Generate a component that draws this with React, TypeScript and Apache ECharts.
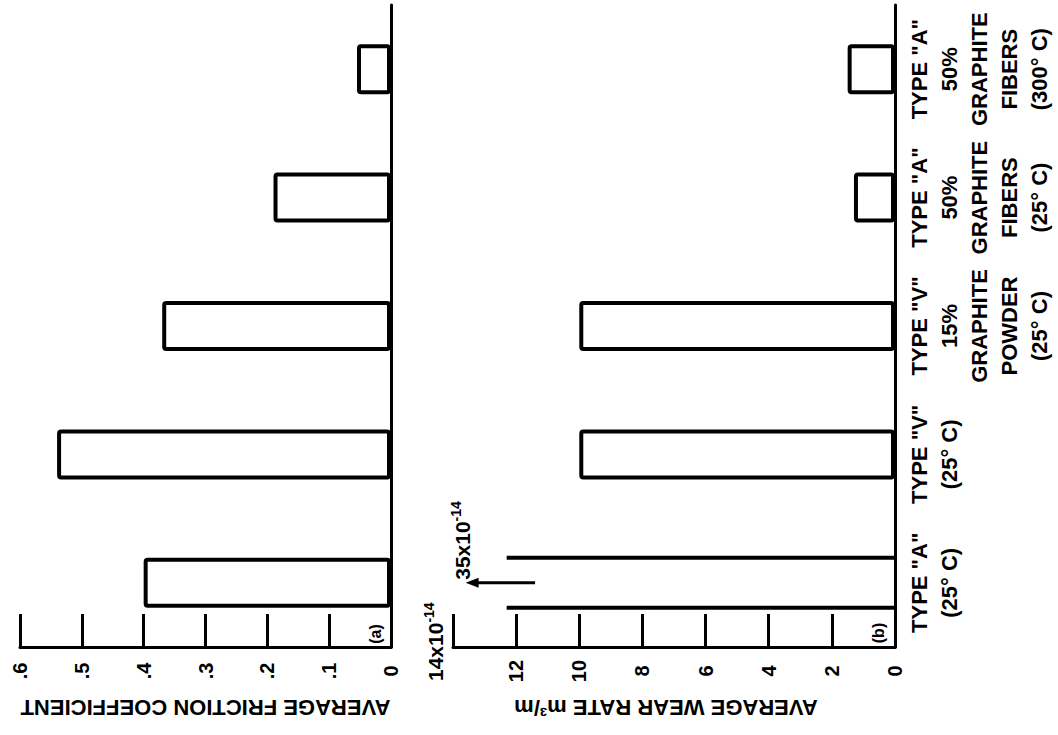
import React, { useEffect, useRef } from 'react';
import * as echarts from 'echarts';

// ---------- data ----------
const categories = [
  'TYPE "A"\n(25° C)',
  'TYPE "V"\n(25° C)',
  'TYPE "V"\n15%\nGRAPHITE\nPOWDER\n(25° C)',
  'TYPE "A"\n50%\nGRAPHITE\nFIBERS\n(25° C)',
  'TYPE "A"\n50%\nGRAPHITE\nFIBERS\n(300° C)',
];
const frictionCoefficients = [0.4, 0.54, 0.37, 0.19, 0.055];
const wearRates = [35, 10, 10, 1.3, 1.5]; // x10^-14 m3/m
const frictionTickLabels = ['0', '.1', '.2', '.3', '.4', '.5', '.6'];
const wearTickLabels = ['0', '2', '4', '6', '8', '10', '12', ''];
const frictionAxisRange = [0, 0.6, 0.1];
const wearAxisRange = [0, 14, 2];
const wearTopTickLabel = ['14x10', '-14'];
const offScaleLabel = ['35x10', '-14'];
const offScaleDrawnTo = 12.3; // value where the off-scale bar is cut
const offScaleArrow = [11.4, 13.6]; // arrow start, arrow tip (value units)

// ---------- style ----------
const FONT = '"Liberation Sans", Arial, sans-serif';
const BLACK = '#000';
const BAR_W = 50;

const supRich = {
  m: { fontSize: 21, fontWeight: 'bold', fontFamily: FONT, color: BLACK, verticalAlign: 'bottom' },
  s: { fontSize: 14, fontWeight: 'bold', fontFamily: FONT, color: BLACK, verticalAlign: 'top', padding: [0, 0, 10, 0] },
};

function valueAxis(grid: number, range: number[], labels: string[], name: string, namePad: number[]) {
  return {
    gridIndex: grid,
    type: 'value',
    inverse: true,
    position: 'bottom',
    min: range[0],
    max: range[1],
    interval: range[2],
    splitLine: { show: false },
    axisLine: { show: true, lineStyle: { color: BLACK, width: 3 } },
    axisTick: { show: true, inside: true, length: 33, lineStyle: { color: BLACK, width: 3 } },
    axisLabel: {
      rotate: 90,
      align: 'center',
      verticalAlign: 'middle',
      margin: 24,
      fontSize: 20,
      fontWeight: 'bold',
      fontFamily: FONT,
      color: BLACK,
      formatter: (v: number) => labels[Math.round(v / range[2])] ?? '',
    },
    name,
    nameLocation: 'middle',
    nameRotate: 180,
    nameGap: 49,
    nameTextStyle: { fontSize: 22, fontWeight: 'bold', fontFamily: FONT, color: BLACK, padding: namePad },
  };
}

function categoryAxis(grid: number, showLabels: boolean) {
  return {
    gridIndex: grid,
    type: 'category',
    data: categories,
    position: 'right',
    axisLine: { show: true, onZero: false, lineStyle: { color: BLACK, width: 3 } },
    axisTick: { show: false },
    splitLine: { show: false },
    axisLabel: {
      show: showLabels,
      interval: 0,
      rotate: 90,
      align: 'center',
      verticalAlign: 'top',
      margin: 9,
      fontSize: 22,
      lineHeight: 30,
      fontWeight: 'bold',
      fontFamily: FONT,
      color: BLACK,
    },
  };
}

const barStyle = { color: '#fff', borderColor: BLACK, borderWidth: 4, borderRadius: 2 };

const option = {
  animation: false,
  backgroundColor: '#fff',
  textStyle: { fontFamily: FONT, fontWeight: 'bold', color: BLACK },
  grid: [
    { left: 20, top: 5, width: 371, height: 642, outerBoundsMode: 'none', containLabel: false },
    { left: 453, top: 5, width: 442, height: 642, outerBoundsMode: 'none', containLabel: false },
  ],
  xAxis: [
    valueAxis(0, frictionAxisRange, frictionTickLabels, 'AVERAGE FRICTION COEFFICIENT', [0, 0, 0, 0]),
    valueAxis(1, wearAxisRange, wearTickLabels, 'AVERAGE WEAR RATE m³/m', [0, 0, 0, 16]),
  ],
  yAxis: [categoryAxis(0, false), categoryAxis(1, true)],
  series: [
    {
      type: 'bar',
      xAxisIndex: 0,
      yAxisIndex: 0,
      barWidth: BAR_W,
      itemStyle: barStyle,
      data: frictionCoefficients,
    },
    {
      type: 'bar',
      xAxisIndex: 1,
      yAxisIndex: 1,
      barWidth: BAR_W,
      itemStyle: barStyle,
      data: wearRates.map((v) => (v > wearAxisRange[1] ? '-' : v)),
    },
    {
      type: 'custom',
      xAxisIndex: 1,
      yAxisIndex: 1,
      clip: false,
      encode: { x: 0, y: 1 },
      data: wearRates.map((v, i) => [v, i]).filter((d) => d[0] > wearAxisRange[1]),
      renderItem: (_params: any, api: any) => {
        const cat = api.value(1);
        const base = api.coord([0, cat]);
        const end = api.coord([offScaleDrawnTo, cat]);
        const a0 = api.coord([offScaleArrow[0], cat]);
        const a1 = api.coord([offScaleArrow[1], cat]);
        const top = base[1] - BAR_W / 2;
        const bot = base[1] + BAR_W / 2;
        const ln = { stroke: BLACK, lineWidth: 4 };
        return {
          type: 'group',
          children: [
            { type: 'line', shape: { x1: base[0], y1: top, x2: end[0], y2: top }, style: ln },
            { type: 'line', shape: { x1: base[0], y1: bot, x2: end[0], y2: bot }, style: ln },
            { type: 'line', shape: { x1: a0[0], y1: a0[1], x2: a1[0] + 8, y2: a1[1] }, style: { stroke: BLACK, lineWidth: 3 } },
            {
              type: 'polygon',
              shape: { points: [[a1[0], a1[1]], [a1[0] + 13, a1[1] - 5], [a1[0] + 13, a1[1] + 5]] },
              style: { fill: BLACK },
            },
            {
              type: 'text',
              x: a1[0] - 5,
              y: a1[1] - 3,
              rotation: Math.PI / 2,
              style: {
                text: `{m|${offScaleLabel[0]}}{s|${offScaleLabel[1]}}`,
                rich: supRich,
                align: 'left',
                verticalAlign: 'middle',
              },
            },
          ],
        };
      },
    },
  ],
  graphic: [
    {
      type: 'text',
      x: 375,
      y: 634,
      rotation: Math.PI / 2,
      style: { text: '(a)', fontSize: 16, fontWeight: 'bold', fontFamily: FONT, fill: BLACK, align: 'center', verticalAlign: 'middle' },
    },
    {
      type: 'text',
      x: 878,
      y: 633,
      rotation: Math.PI / 2,
      style: { text: '(b)', fontSize: 16, fontWeight: 'bold', fontFamily: FONT, fill: BLACK, align: 'center', verticalAlign: 'middle' },
    },
    {
      type: 'text',
      x: 434,
      y: 681,
      rotation: Math.PI / 2,
      style: {
        text: `{m|${wearTopTickLabel[0]}}{s|${wearTopTickLabel[1]}}`,
        rich: supRich,
        align: 'left',
        verticalAlign: 'middle',
      },
    },
  ],
};

export default function App() {
  const ref = useRef<HTMLDivElement>(null);
  useEffect(() => {
    const chart = echarts.init(ref.current!, null, { renderer: 'svg' });
    chart.setOption(option as any);
    return () => chart.dispose();
  }, []);
  return (
    <div
      ref={ref}
      style={{ position: 'absolute', left: 0, top: 0, width: 1058, height: 735, background: '#fff' }}
    />
  );
}
